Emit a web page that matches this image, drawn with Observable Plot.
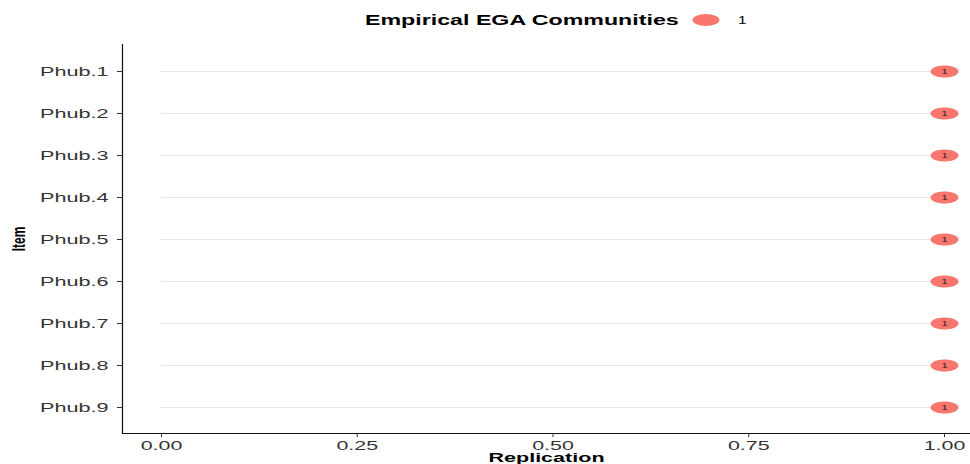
<!DOCTYPE html>
<html><head><meta charset="utf-8">
<script src="https://cdn.jsdelivr.net/npm/d3@7"></script>
<script src="https://cdn.jsdelivr.net/npm/@observablehq/plot@0.6"></script>
<style>
body{margin:0;background:#fff;font-family:"Liberation Sans",Arial,sans-serif;}
#wrap{width:970px;height:464px;overflow:hidden;position:relative;background:#fff;}
#legend{position:relative;height:40px;width:970px;}
.lt{position:absolute;white-space:nowrap;transform-origin:0 50%;line-height:17px;color:#000;}
#chart svg{display:block;}
</style></head><body>
<div id="wrap">
<div id="legend"></div>
<div id="chart"></div>
</div>
<script>
// ---- data ----
const items = ["Phub.1","Phub.2","Phub.3","Phub.4","Phub.5","Phub.6","Phub.7","Phub.8","Phub.9"];
const replication = [1,1,1,1,1,1,1,1,1];
const community = ["1","1","1","1","1","1","1","1","1"];
const communityDomain = ["1"];
const communityColors = ["#F8766D"];
const xTicks = [0,0.25,0.5,0.75,1];
const legendTitle = "Empirical EGA Communities";
const xLabel = "Replication";
const yLabel = "Item";

const data = items.map((item,i)=>({item, rep: replication[i], comm: community[i]}));

const SX = 1.6; // horizontal stretch of the reference picture

// ellipse symbol
const ellipse = {draw(ctx,size){
  const r = Math.sqrt(size/Math.PI), rx = r*2.25, ry = r*0.97, n = 48;
  for (let k=0;k<=n;k++){const a=2*Math.PI*k/n, px=rx*Math.cos(a), py=ry*Math.sin(a); k?ctx.lineTo(px,py):ctx.moveTo(px,py);}
  ctx.closePath();
}};

const plot = Plot.plot({
  width: 970, height: 424,
  marginTop: 4, marginBottom: 31, marginLeft: 122, marginRight: 0,
  style: {fontFamily: "Liberation Sans, Arial, sans-serif", fontSize: "13.5px", color: "#333", background: "#fff", overflow: "visible"},
  x: {domain: [-0.0498, 1.0332], label: null},
  y: {type: "point", domain: items, padding: 0.6, label: null},
  color: {domain: communityDomain, range: communityColors},
  marks: [
    Plot.ruleY(data, {y: "item", x1: 0, x2: "rep", stroke: "#e6e6e6", strokeWidth: 1}),
    Plot.frame({anchor: "left", stroke: "#111", strokeWidth: 1.2}),
    Plot.frame({anchor: "bottom", stroke: "#111", strokeWidth: 1.2}),
    Plot.axisY({tickSize: 5, tickPadding: 9, label: null, color: "#333", stroke: "#333"}),
    Plot.axisX({ticks: xTicks, tickFormat: d3.format(".2f"), tickSize: 4, tickPadding: 3, fontSize: 13, label: null, color: "#333", stroke: "#333"}),
    Plot.dot(data, {x: "rep", y: "item", fill: "comm", r: 6.2, symbol: ellipse, stroke: "none"}),
    Plot.text(data, {x: "rep", y: "item", text: "comm", fontSize: 8, fill: "#3a1414"}),
    Plot.text([xLabel], {text: d=>d, frameAnchor: "bottom", dy: 28, fontWeight: "bold", fontSize: 13, fill: "#000"}),
    Plot.text([yLabel], {text: d=>d, frameAnchor: "left", dx: -103, rotate: -90, textAnchor: "middle", fontWeight: "bold", fontSize: 12, fill: "#000"})
  ]
});
document.getElementById("chart").appendChild(plot);

function stretchEl(t, sx, sy){
  const tr = t.getAttribute("transform") || "";
  t.setAttribute("transform", tr + ` scale(${sx},${sy})`);
}
plot.querySelectorAll('g[aria-label="y-axis tick label"] text').forEach(t => stretchEl(t, SX, 1));
plot.querySelectorAll('g[aria-label="x-axis tick label"] text').forEach(t => stretchEl(t, 1.65, 1));
plot.querySelectorAll('g[aria-label="text"] text').forEach(t => {
  const s = t.textContent;
  if (s === yLabel) stretchEl(t, 1, 1.5);
  else if (s === xLabel) stretchEl(t, 1.66, 1);
  else stretchEl(t, 1.4, 1);
});

// legend from the color scale
const cs = plot.scale("color");
const legend = document.getElementById("legend");
const t = document.createElement("span");
t.className = "lt"; t.textContent = legendTitle;
t.style.cssText = `left:365px;top:12px;font-weight:bold;font-size:14.5px;transform:scaleX(${SX})`;
legend.appendChild(t);
communityDomain.forEach((c,i)=>{
  const key = d3.create("svg").attr("width",28).attr("height",14)
    .style("position","absolute").style("left",(692+i*60)+"px").style("top","13px");
  key.append("ellipse").attr("cx",14).attr("cy",7).attr("rx",13.5).attr("ry",6)
    .attr("fill", cs.range[cs.domain.indexOf(c)]);
  legend.appendChild(key.node());
  const l = document.createElement("span");
  l.className = "lt"; l.textContent = c;
  l.style.cssText = `left:${738+i*60}px;top:12px;font-size:11px;transform:scaleX(1.4)`;
  legend.appendChild(l);
});
</script>
</body></html>
